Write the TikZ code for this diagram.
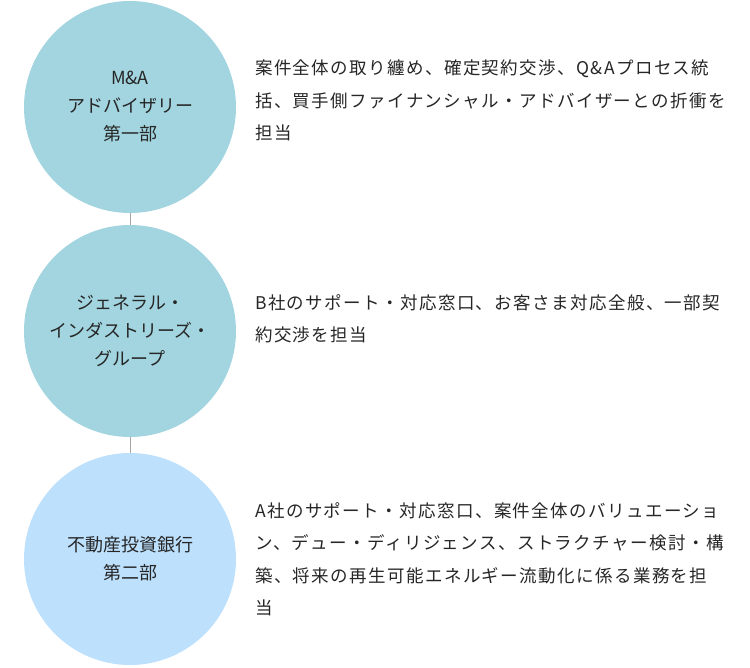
\documentclass[tikz,border=0pt]{standalone}
\usepackage{fontspec}
\setmainfont{Noto Sans CJK JP}
\newfontfamily\descfont[LetterSpace=8]{Noto Sans CJK JP}
\begin{document}
\begin{tikzpicture}[x=1pt,y=-1pt,
 circ/.style={circle,minimum size=212pt,inner sep=0pt,align=center,font=\fontsize{18}{28}\selectfont,text=black!85},
 desc/.style={anchor=north west,align=left,font=\descfont\fontsize{17.5}{32.5}\selectfont,text=black!85,inner sep=0pt}]
\useasboundingbox (0,0) rectangle (750,668);
\definecolor{teal1}{HTML}{A2D5DF}
\definecolor{blue1}{HTML}{BDE0FC}
\node[circ,fill=teal1] (c1) at (130,107) {M\&A\\アドバイザリー\\第一部};
\node[circ,fill=teal1] (c2) at (130,331) {ジェネラル・\\インダストリーズ・\\グループ};
\node[circ,fill=blue1] (c3) at (130,559) {不動産投資銀行\\第二部};
\draw[gray!70] (c1) -- (c2);
\draw[gray!70] (c2) -- (c3);
\node[desc] (d1) at (255,60) {案件全体の取り纏め、確定契約交渉、Q\&Aプロセス統\\括、買手側ファイナンシャル・アドバイザーとの折衝を\\担当};
\node[desc] (d2) at (255,294) {B社のサポート・対応窓口、お客さま対応全般、一部契\\約交渉を担当};
\node[desc] (d3) at (255,502) {A社のサポート・対応窓口、案件全体のバリュエーショ\\ン、デュー・ディリジェンス、ストラクチャー検討・構\\築、将来の再生可能エネルギー流動化に係る業務を担\\当};
\end{tikzpicture}
\end{document}
